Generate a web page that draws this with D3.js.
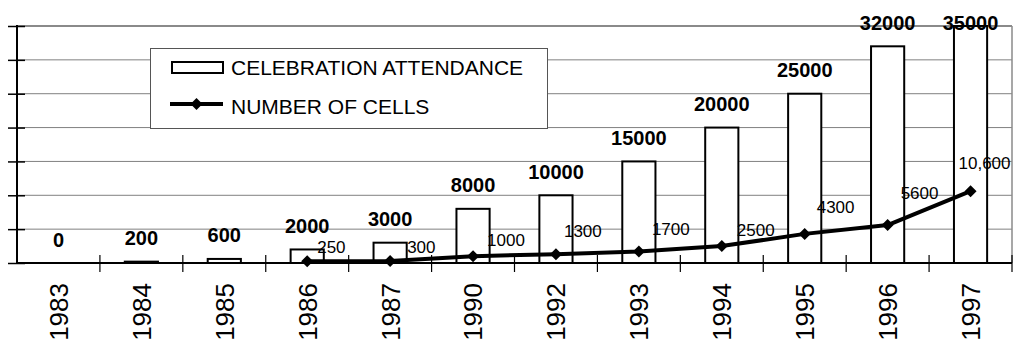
<!DOCTYPE html>
<html>
<head>
<meta charset="utf-8">
<script src="https://cdn.jsdelivr.net/npm/d3@7/dist/d3.min.js"></script>
<style>
  html, body { margin: 0; padding: 0; background: #fff; }
  svg { display: block; font-family: "Liberation Sans", Arial, sans-serif; }
</style>
</head>
<body>
<svg id="chart" width="1015" height="341"></svg>
<script>
// ---- data ----
const years = ["1983","1984","1985","1986","1987","1990","1992","1993","1994","1995","1996","1997"];
const attendance = [0, 200, 600, 2000, 3000, 8000, 10000, 15000, 20000, 25000, 32000, 35000];
const cellYears = ["1986","1987","1990","1992","1993","1994","1995","1996","1997"];
const cells = [250, 300, 1000, 1300, 1700, 2500, 4300, 5600, 10600];
const cellLabels = ["250","300","1000","1300","1700","2500","4300","5600","10,600"];
const yTicks = [0, 5000, 10000, 15000, 20000, 25000, 30000, 35000];
const seriesNames = ["CELEBRATION ATTENDANCE", "NUMBER OF CELLS"];

// ---- layout (label nudges, as placed by hand in the original) ----
const cellLabelNudge = [[10,-8],[17,-8],[14,-10],[8,-17],[13,-16],[15,-10],[12,-21],[13,-26],[-12,-22]];

(function () {
const svg = d3.select("#chart");
const pLeft = 17, pRight = 1012, pTop = 26, pBottom = 263;

const x = d3.scaleBand().domain(years).range([pLeft, pRight]).padding(0);
const y = d3.scaleLinear().domain([0, 35000]).range([pBottom, pTop]);
const bw = x.bandwidth() * 0.4;
const cx = d => x(d) + x.bandwidth() / 2;

// gridlines
svg.append("g").selectAll("line").data(yTicks.filter(v => v > 0 && v < 35000)).join("line")
  .attr("x1", pLeft).attr("x2", pRight)
  .attr("y1", d => y(d)).attr("y2", d => y(d))
  .attr("stroke", "#808080").attr("stroke-width", 1);
// top & right border
svg.append("line").attr("x1", pLeft).attr("x2", pRight).attr("y1", y(35000)).attr("y2", y(35000))
  .attr("stroke", "#8a8a8a").attr("stroke-width", 2);
svg.append("line").attr("x1", pRight).attr("x2", pRight).attr("y1", pTop).attr("y2", pBottom)
  .attr("stroke", "#8a8a8a").attr("stroke-width", 1.5);

// legend box (drawn over gridlines)
const lg = svg.append("g");
lg.append("rect").attr("x", 150.5).attr("y", 48.5).attr("width", 397).attr("height", 80)
  .attr("fill", "#fff").attr("stroke", "#555").attr("stroke-width", 1);

// bars
svg.append("g").selectAll("rect").data(years.map((yr, i) => ({yr, v: attendance[i]})).filter(d => d.v > 0)).join("rect")
  .attr("x", d => cx(d.yr) - bw / 2)
  .attr("y", d => y(d.v))
  .attr("width", bw)
  .attr("height", d => y(0) - y(d.v))
  .attr("fill", "#fff").attr("stroke", "#000").attr("stroke-width", 2);

// axes
const yAxis = d3.axisLeft(y).tickValues(yTicks).tickSize(17).tickFormat("");
const yg = svg.append("g").attr("transform", `translate(${pLeft + 8},0)`).call(yAxis);
yg.select(".domain").remove();
yg.selectAll(".tick line").attr("stroke", "#000").attr("stroke-width", 1.5);
svg.append("line").attr("x1", pLeft).attr("x2", pLeft).attr("y1", pTop - 1).attr("y2", pBottom + 1)
  .attr("stroke", "#000").attr("stroke-width", 2);

const bounds = years.map(d => x(d)).concat([pRight]);
svg.append("g").selectAll("line").data(bounds.slice(1)).join("line")
  .attr("x1", d => d).attr("x2", d => d).attr("y1", pBottom - 8).attr("y2", pBottom + 9)
  .attr("stroke", "#000").attr("stroke-width", 1.2);
svg.append("line").attr("x1", pLeft).attr("x2", pRight).attr("y1", pBottom).attr("y2", pBottom)
  .attr("stroke", "#000").attr("stroke-width", 2);

// x labels
svg.append("g").selectAll("text").data(years).join("text")
  .attr("transform", d => `translate(${cx(d)},283) rotate(-90)`)
  .attr("text-anchor", "end").attr("dy", "0.36em")
  .attr("font-size", 26).attr("fill", "#000")
  .text(d => d);

// line
const pts = cellYears.map((yr, i) => ({yr, v: cells[i], lab: cellLabels[i], n: cellLabelNudge[i]}));
const line = d3.line().x(d => cx(d.yr)).y(d => y(d.v));
svg.append("path").datum(pts).attr("d", line)
  .attr("fill", "none").attr("stroke", "#000").attr("stroke-width", 4).attr("stroke-linejoin", "round");
svg.append("g").selectAll("path").data(pts).join("path")
  .attr("transform", d => `translate(${cx(d.yr)},${y(d.v)}) rotate(45)`)
  .attr("d", d3.symbol().type(d3.symbolSquare).size(72))
  .attr("fill", "#000");

// line labels
svg.append("g").selectAll("text").data(pts).join("text")
  .attr("x", d => cx(d.yr) + d.n[0])
  .attr("y", d => y(d.v) + d.n[1])
  .attr("font-size", 17).attr("fill", "#000")
  .text(d => d.lab);

// bar labels
svg.append("g").selectAll("text").data(years.map((yr, i) => ({yr, v: attendance[i]}))).join("text")
  .attr("x", d => cx(d.yr))
  .attr("y", d => Math.max(y(d.v) - 16.5, 30))
  .attr("text-anchor", "middle")
  .attr("font-size", 20).attr("font-weight", "bold").attr("fill", "#000")
  .text(d => d.v);

// legend entries
lg.append("rect").attr("x", 172).attr("y", 62).attr("width", 51).attr("height", 11)
  .attr("fill", "#fff").attr("stroke", "#000").attr("stroke-width", 2);
lg.append("line").attr("x1", 170).attr("x2", 223).attr("y1", 104).attr("y2", 104)
  .attr("stroke", "#000").attr("stroke-width", 4);
lg.append("path").attr("transform", "translate(196.5,104) rotate(45)")
  .attr("d", d3.symbol().type(d3.symbolSquare).size(72)).attr("fill", "#000");
lg.selectAll("text.leg").data(seriesNames).join("text")
  .attr("class", "leg")
  .attr("x", 231).attr("y", (d, i) => i === 0 ? 75 : 114)
  .attr("font-size", 21).attr("fill", "#000")
  .text(d => d);
})();
</script>
</body>
</html>
